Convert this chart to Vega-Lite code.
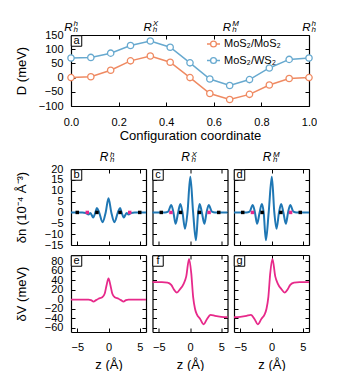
{
 "$schema": "https://vega.github.io/schema/vega-lite/v6.json",
 "padding": {"left": 15, "top": 20, "right": 0, "bottom": 0},
 "config": {
  "font": "Liberation Sans",
  "view": {"stroke": null},
  "axis": {"domainColor": "black", "domainWidth": 1.2, "tickColor": "black", "tickWidth": 1, "tickSize": -4, "labelPadding": 12, "labelFontSize": 11, "labelColor": "black", "titleFontSize": 13, "titleFontWeight": "normal", "titleColor": "black", "grid": false, "labelFlush": false, "labelOverlap": false},
  "axisX": {"labelPadding": 13},
  "text": {"color": "black"}
 },
 "datasets": {
  "D": [
   {"x": 0, "series": "MoS₂/MoS₂", "D": 0}, {"x": 0.0833, "series": "MoS₂/MoS₂", "D": 3}, {"x": 0.1667, "series": "MoS₂/MoS₂", "D": 26}, {"x": 0.25, "series": "MoS₂/MoS₂", "D": 59}, {"x": 0.3333, "series": "MoS₂/MoS₂", "D": 76}, {"x": 0.4167, "series": "MoS₂/MoS₂", "D": 54}, {"x": 0.5, "series": "MoS₂/MoS₂", "D": 0}, {"x": 0.5833, "series": "MoS₂/MoS₂", "D": -56}, {"x": 0.6667, "series": "MoS₂/MoS₂", "D": -77}, {"x": 0.75, "series": "MoS₂/MoS₂", "D": -59}, {"x": 0.8333, "series": "MoS₂/MoS₂", "D": -26}, {"x": 0.9167, "series": "MoS₂/MoS₂", "D": -3}, {"x": 1, "series": "MoS₂/MoS₂", "D": 0},
   {"x": 0, "series": "MoS₂/WS₂", "D": 69}, {"x": 0.0833, "series": "MoS₂/WS₂", "D": 71}, {"x": 0.1667, "series": "MoS₂/WS₂", "D": 86}, {"x": 0.25, "series": "MoS₂/WS₂", "D": 113}, {"x": 0.3333, "series": "MoS₂/WS₂", "D": 129}, {"x": 0.4167, "series": "MoS₂/WS₂", "D": 107}, {"x": 0.5, "series": "MoS₂/WS₂", "D": 52}, {"x": 0.5833, "series": "MoS₂/WS₂", "D": -5}, {"x": 0.6667, "series": "MoS₂/WS₂", "D": -28}, {"x": 0.75, "series": "MoS₂/WS₂", "D": -7}, {"x": 0.8333, "series": "MoS₂/WS₂", "D": 34}, {"x": 0.9167, "series": "MoS₂/WS₂", "D": 64}, {"x": 1, "series": "MoS₂/WS₂", "D": 69}
  ],
  "rtop": [{"x": 0, "sup": "h"}, {"x": 0.3333, "sup": "X"}, {"x": 0.6667, "sup": "M"}, {"x": 1, "sup": "h"}],
  "coltitle": [{"panel": "b", "sup": "h"}, {"panel": "c", "sup": "X"}, {"panel": "d", "sup": "M"}],
  "atoms": [
   {"panel": "b", "z": -5.0, "kind": "S"}, {"panel": "b", "z": -1.85, "kind": "S"}, {"panel": "b", "z": 1.85, "kind": "S"}, {"panel": "b", "z": 5.0, "kind": "S"}, {"panel": "b", "z": -3.4, "kind": "M"}, {"panel": "b", "z": 3.4, "kind": "M"},
   {"panel": "c", "z": -4.6, "kind": "S"}, {"panel": "c", "z": -1.5, "kind": "S"}, {"panel": "c", "z": 1.5, "kind": "S"}, {"panel": "c", "z": 4.6, "kind": "S"}, {"panel": "c", "z": -3.05, "kind": "M"}, {"panel": "c", "z": 3.05, "kind": "M"},
   {"panel": "d", "z": -4.6, "kind": "S"}, {"panel": "d", "z": -1.5, "kind": "S"}, {"panel": "d", "z": 1.5, "kind": "S"}, {"panel": "d", "z": 4.6, "kind": "S"}, {"panel": "d", "z": -3.05, "kind": "M"}, {"panel": "d", "z": 3.05, "kind": "M"}
  ],
  "dn": [
   {"panel": "b", "z": -6, "v": 0}, {"panel": "b", "z": -4.2, "v": 0}, {"panel": "b", "z": -3.6, "v": -0.3}, {"panel": "b", "z": -3.2, "v": -0.9}, {"panel": "b", "z": -2.9, "v": -0.3}, {"panel": "b", "z": -2.45, "v": -2.3}, {"panel": "b", "z": -2.1, "v": 0}, {"panel": "b", "z": -1.85, "v": 2.0}, {"panel": "b", "z": -1.5, "v": 0}, {"panel": "b", "z": -0.95, "v": -4.5}, {"panel": "b", "z": -0.45, "v": 0}, {"panel": "b", "z": 0, "v": 6.5}, {"panel": "b", "z": 0.45, "v": 0}, {"panel": "b", "z": 0.95, "v": -4.5}, {"panel": "b", "z": 1.5, "v": 0}, {"panel": "b", "z": 1.85, "v": 2.0}, {"panel": "b", "z": 2.1, "v": 0}, {"panel": "b", "z": 2.45, "v": -2.3}, {"panel": "b", "z": 2.9, "v": -0.3}, {"panel": "b", "z": 3.2, "v": -0.9}, {"panel": "b", "z": 3.6, "v": -0.3}, {"panel": "b", "z": 4.2, "v": 0}, {"panel": "b", "z": 6, "v": 0},
   {"panel": "c", "z": -6, "v": 0}, {"panel": "c", "z": -4.0, "v": 0}, {"panel": "c", "z": -3.5, "v": 0.4}, {"panel": "c", "z": -3.0, "v": 3.4}, {"panel": "c", "z": -2.65, "v": 0}, {"panel": "c", "z": -2.3, "v": -5.2}, {"panel": "c", "z": -1.9, "v": 0}, {"panel": "c", "z": -1.55, "v": 3.9}, {"panel": "c", "z": -1.2, "v": 0}, {"panel": "c", "z": -0.8, "v": -7.5}, {"panel": "c", "z": -0.4, "v": 0}, {"panel": "c", "z": 0.05, "v": 16.4}, {"panel": "c", "z": 0.5, "v": 0}, {"panel": "c", "z": 0.95, "v": -12.8}, {"panel": "c", "z": 1.3, "v": 0}, {"panel": "c", "z": 1.55, "v": 3.9}, {"panel": "c", "z": 1.9, "v": 0}, {"panel": "c", "z": 2.3, "v": -5.2}, {"panel": "c", "z": 2.65, "v": 0}, {"panel": "c", "z": 3.0, "v": 3.4}, {"panel": "c", "z": 3.5, "v": 0.4}, {"panel": "c", "z": 4.0, "v": 0}, {"panel": "c", "z": 6, "v": 0},
   {"panel": "d", "z": -6, "v": 0}, {"panel": "d", "z": -4.0, "v": 0}, {"panel": "d", "z": -3.5, "v": 0.4}, {"panel": "d", "z": -3.0, "v": 3.4}, {"panel": "d", "z": -2.65, "v": 0}, {"panel": "d", "z": -2.3, "v": -5.2}, {"panel": "d", "z": -1.9, "v": 0}, {"panel": "d", "z": -1.55, "v": 3.9}, {"panel": "d", "z": -1.25, "v": 0}, {"panel": "d", "z": -0.9, "v": -12.8}, {"panel": "d", "z": -0.45, "v": 0}, {"panel": "d", "z": 0.05, "v": 16.4}, {"panel": "d", "z": 0.45, "v": 0}, {"panel": "d", "z": 0.8, "v": -7.5}, {"panel": "d", "z": 1.2, "v": 0}, {"panel": "d", "z": 1.55, "v": 3.9}, {"panel": "d", "z": 1.9, "v": 0}, {"panel": "d", "z": 2.3, "v": -5.2}, {"panel": "d", "z": 2.65, "v": 0}, {"panel": "d", "z": 3.0, "v": 3.4}, {"panel": "d", "z": 3.5, "v": 0.4}, {"panel": "d", "z": 4.0, "v": 0}, {"panel": "d", "z": 6, "v": 0}
  ],
  "dv": [
   {"panel": "e", "z": -6, "v": -1}, {"panel": "e", "z": -3.2, "v": -1}, {"panel": "e", "z": -2.8, "v": -2}, {"panel": "e", "z": -2.4, "v": -5}, {"panel": "e", "z": -2.0, "v": -2}, {"panel": "e", "z": -1.6, "v": 1}, {"panel": "e", "z": -1.0, "v": 4}, {"panel": "e", "z": -0.6, "v": 12}, {"panel": "e", "z": -0.3, "v": 30}, {"panel": "e", "z": 0, "v": 44}, {"panel": "e", "z": 0.3, "v": 30}, {"panel": "e", "z": 0.6, "v": 12}, {"panel": "e", "z": 1.0, "v": 4}, {"panel": "e", "z": 1.6, "v": 1}, {"panel": "e", "z": 2.0, "v": -2}, {"panel": "e", "z": 2.4, "v": -5}, {"panel": "e", "z": 2.8, "v": -2}, {"panel": "e", "z": 3.2, "v": -1}, {"panel": "e", "z": 6, "v": -1},
   {"panel": "f", "z": -6, "v": 36}, {"panel": "f", "z": -4.5, "v": 36}, {"panel": "f", "z": -3.6, "v": 35}, {"panel": "f", "z": -3.0, "v": 30}, {"panel": "f", "z": -2.5, "v": 19}, {"panel": "f", "z": -2.1, "v": 14}, {"panel": "f", "z": -1.6, "v": 21}, {"panel": "f", "z": -1.0, "v": 33}, {"panel": "f", "z": -0.6, "v": 48}, {"panel": "f", "z": -0.15, "v": 85}, {"panel": "f", "z": 0.2, "v": 55}, {"panel": "f", "z": 0.5, "v": 5}, {"panel": "f", "z": 0.8, "v": -20}, {"panel": "f", "z": 1.1, "v": -32}, {"panel": "f", "z": 1.6, "v": -41}, {"panel": "f", "z": 2.2, "v": -53}, {"panel": "f", "z": 2.7, "v": -42}, {"panel": "f", "z": 3.3, "v": -33}, {"panel": "f", "z": 4.0, "v": -35}, {"panel": "f", "z": 5.0, "v": -37}, {"panel": "f", "z": 6, "v": -38},
   {"panel": "g", "z": -6, "v": -38}, {"panel": "g", "z": -5.0, "v": -37}, {"panel": "g", "z": -4.0, "v": -35}, {"panel": "g", "z": -3.3, "v": -33}, {"panel": "g", "z": -2.7, "v": -42}, {"panel": "g", "z": -2.2, "v": -53}, {"panel": "g", "z": -1.6, "v": -41}, {"panel": "g", "z": -1.1, "v": -32}, {"panel": "g", "z": -0.8, "v": -20}, {"panel": "g", "z": -0.5, "v": 5}, {"panel": "g", "z": -0.2, "v": 55}, {"panel": "g", "z": 0.15, "v": 85}, {"panel": "g", "z": 0.6, "v": 48}, {"panel": "g", "z": 1.0, "v": 33}, {"panel": "g", "z": 1.6, "v": 21}, {"panel": "g", "z": 2.1, "v": 14}, {"panel": "g", "z": 2.5, "v": 19}, {"panel": "g", "z": 3.0, "v": 30}, {"panel": "g", "z": 3.6, "v": 35}, {"panel": "g", "z": 4.5, "v": 36}, {"panel": "g", "z": 6, "v": 36}
  ]
 },
 "vconcat": [
  {
   "width": 238, "height": 71,
   "layer": [
    {"data": {"name": "D"},
     "mark": {"type": "line", "strokeWidth": 1.5},
     "encoding": {
      "x": {"field": "x", "type": "quantitative", "scale": {"domain": [0, 1], "nice": false, "zero": false}, "axis": {"orient": "bottom", "values": [0, 0.2, 0.4, 0.6, 0.8, 1], "format": ".1f", "title": "Configuration coordinate", "titlePadding": 2, "labelPadding": 14}},
      "y": {"field": "D", "type": "quantitative", "scale": {"domain": [-100, 150], "nice": false, "zero": false}, "axis": {"orient": "left", "values": [-100, -50, 0, 50, 100, 150], "title": "D (meV)", "titleX": -43}},
      "color": {"field": "series", "type": "nominal", "scale": {"domain": ["MoS₂/MoS₂", "MoS₂/WS₂"], "range": ["#ef8a62", "#67a9cf"]},
       "legend": {"orient": "none", "legendX": 135, "legendY": 1.5, "title": null, "padding": 0, "symbolType": "M-1,0L-0.45,0M0.45,0L1,0M0.45,0A0.45,0.45,0,1,1,-0.45,0A0.45,0.45,0,1,1,0.45,0", "symbolSize": 169, "symbolStrokeWidth": 1.3, "labelFontSize": 11, "labelOffset": 3, "rowPadding": 2.5, "labelColor": "black"}}
     }},
    {"data": {"name": "D"},
     "mark": {"type": "point", "filled": false, "fill": "white", "size": 40, "strokeWidth": 1.3, "opacity": 1},
     "encoding": {
      "x": {"field": "x", "type": "quantitative", "axis": null},
      "y": {"field": "D", "type": "quantitative", "axis": null},
      "color": {"field": "series", "type": "nominal", "legend": null}
     }},
    {"data": {"name": "D"},
     "mark": {"type": "line", "opacity": 0},
     "encoding": {
      "x": {"field": "x", "type": "quantitative", "axis": {"orient": "top", "values": [0, 0.2, 0.4, 0.6, 0.8, 1], "labels": false, "title": null}},
      "y": {"field": "D", "type": "quantitative", "axis": {"orient": "right", "values": [-100, -50, 0, 50, 100, 150], "labels": false, "title": null}}
     }},
    {"data": {"name": "rtop"},
     "mark": {"type": "text", "text": "R", "fontStyle": "italic", "fontSize": 11.5, "align": "right", "baseline": "alphabetic", "dx": 1.5, "dy": -4},
     "encoding": {"x": {"field": "x", "type": "quantitative", "axis": null}, "y": {"datum": 150, "axis": null}}},
    {"data": {"name": "rtop"},
     "mark": {"type": "text", "fontStyle": "italic", "fontSize": 8, "align": "left", "baseline": "alphabetic", "dx": 2.5, "dy": -9},
     "encoding": {"x": {"field": "x", "type": "quantitative", "axis": null}, "y": {"datum": 150, "axis": null}, "text": {"field": "sup"}}},
    {"data": {"name": "rtop"},
     "mark": {"type": "text", "text": "h", "fontStyle": "italic", "fontSize": 8, "align": "left", "baseline": "alphabetic", "dx": 2.5, "dy": -3},
     "encoding": {"x": {"field": "x", "type": "quantitative", "axis": null}, "y": {"datum": 150, "axis": null}}},
    {"data": {"values": [{"t": "a"}]},
     "mark": {"type": "point", "shape": "square", "filled": true, "fill": "white", "stroke": "black", "strokeWidth": 1, "size": 110, "xOffset": 5.5, "yOffset": 6, "opacity": 1},
     "encoding": {"x": {"datum": 0, "axis": null}, "y": {"datum": 150, "axis": null}}},
    {"data": {"values": [{"t": "a"}]},
     "mark": {"type": "text", "fontSize": 11, "align": "center", "baseline": "middle", "dx": 5.5, "dy": 6},
     "encoding": {"x": {"datum": 0, "axis": null}, "y": {"datum": 150, "axis": null}, "text": {"field": "t"}}}
   ]
  },
  {
   "spacing": 3,
   "vconcat": [
    {
     "spacing": 6.5,
     "bounds": "flush",
     "hconcat": [
      {
       "width": 75, "height": 76,
       "layer": [
        {"data": {"name": "dn"}, "transform": [{"filter": "datum.panel == 'b'"}],
         "mark": {"type": "line", "color": "#1f77b4", "strokeWidth": 2, "interpolate": "monotone"},
         "encoding": {
          "x": {"field": "z", "type": "quantitative", "scale": {"domain": [-6, 6], "nice": false, "zero": false}, "axis": {"orient": "bottom", "values": [-5, 0, 5], "labels": false, "title": null}},
          "y": {"field": "v", "type": "quantitative", "scale": {"domain": [-15, 20], "nice": false, "zero": false}, "axis": {"orient": "left", "values": [-15, -10, -5, 0, 5, 10, 15, 20], "title": "δn (10⁻⁴ Å⁻³)", "titleX": -43}}
         }},
        {"data": {"name": "dn"}, "transform": [{"filter": "datum.panel == 'b'"}],
         "mark": {"type": "line", "opacity": 0},
         "encoding": {
          "x": {"field": "z", "type": "quantitative", "axis": {"orient": "top", "values": [-5, 0, 5], "labels": false, "title": null}},
          "y": {"field": "v", "type": "quantitative", "axis": {"orient": "right", "values": [-15, -10, -5, 0, 5, 10, 15, 20], "labels": false, "title": null}}
         }},
        {"data": {"name": "atoms"}, "transform": [{"filter": "datum.panel == 'b' && datum.kind == 'S'"}],
         "mark": {"type": "point", "shape": "square", "filled": true, "size": 12, "color": "black", "opacity": 1},
         "encoding": {"x": {"field": "z", "type": "quantitative", "axis": null}, "y": {"datum": 0, "axis": null}}},
        {"data": {"name": "atoms"}, "transform": [{"filter": "datum.panel == 'b' && datum.kind == 'M'"}],
         "mark": {"type": "point", "shape": "square", "filled": true, "size": 12, "color": "#e7298a", "opacity": 1},
         "encoding": {"x": {"field": "z", "type": "quantitative", "axis": null}, "y": {"datum": 0, "axis": null}}},
        {"data": {"name": "coltitle"}, "transform": [{"filter": "datum.panel == 'b'"}],
         "mark": {"type": "text", "text": "R", "fontStyle": "italic", "fontSize": 12, "align": "right", "baseline": "alphabetic", "dx": 0, "dy": -8},
         "encoding": {"x": {"datum": 0, "axis": null}, "y": {"datum": 20, "axis": null}}},
        {"data": {"name": "coltitle"}, "transform": [{"filter": "datum.panel == 'b'"}],
         "mark": {"type": "text", "fontStyle": "italic", "fontSize": 8, "align": "left", "baseline": "alphabetic", "dx": 1.5, "dy": -12.5},
         "encoding": {"x": {"datum": 0, "axis": null}, "y": {"datum": 20, "axis": null}, "text": {"field": "sup"}}},
        {"data": {"name": "coltitle"}, "transform": [{"filter": "datum.panel == 'b'"}],
         "mark": {"type": "text", "text": "h", "fontStyle": "italic", "fontSize": 8, "align": "left", "baseline": "alphabetic", "dx": 1.5, "dy": -7},
         "encoding": {"x": {"datum": 0, "axis": null}, "y": {"datum": 20, "axis": null}}},
        {"data": {"values": [{"t": "b"}]},
         "mark": {"type": "point", "shape": "square", "filled": true, "fill": "white", "stroke": "black", "strokeWidth": 1, "size": 110, "xOffset": 5.5, "yOffset": 6, "opacity": 1},
         "encoding": {"x": {"datum": -6, "axis": null}, "y": {"datum": 20, "axis": null}}},
        {"data": {"values": [{"t": "b"}]},
         "mark": {"type": "text", "fontSize": 11, "align": "center", "baseline": "middle", "dx": 5.5, "dy": 6},
         "encoding": {"x": {"datum": -6, "axis": null}, "y": {"datum": 20, "axis": null}, "text": {"field": "t"}}}
       ]
      },
      {
       "width": 75, "height": 76,
       "layer": [
        {"data": {"name": "dn"}, "transform": [{"filter": "datum.panel == 'c'"}],
         "mark": {"type": "line", "color": "#1f77b4", "strokeWidth": 2, "interpolate": "monotone"},
         "encoding": {
          "x": {"field": "z", "type": "quantitative", "scale": {"domain": [-6, 6], "nice": false, "zero": false}, "axis": {"orient": "bottom", "values": [-5, 0, 5], "labels": false, "title": null}},
          "y": {"field": "v", "type": "quantitative", "scale": {"domain": [-15, 20], "nice": false, "zero": false}, "axis": {"orient": "left", "values": [-15, -10, -5, 0, 5, 10, 15, 20], "labels": false, "title": null}}
         }},
        {"data": {"name": "dn"}, "transform": [{"filter": "datum.panel == 'c'"}],
         "mark": {"type": "line", "opacity": 0},
         "encoding": {
          "x": {"field": "z", "type": "quantitative", "axis": {"orient": "top", "values": [-5, 0, 5], "labels": false, "title": null}},
          "y": {"field": "v", "type": "quantitative", "axis": {"orient": "right", "values": [-15, -10, -5, 0, 5, 10, 15, 20], "labels": false, "title": null}}
         }},
        {"data": {"name": "atoms"}, "transform": [{"filter": "datum.panel == 'c' && datum.kind == 'S'"}],
         "mark": {"type": "point", "shape": "square", "filled": true, "size": 12, "color": "black", "opacity": 1},
         "encoding": {"x": {"field": "z", "type": "quantitative", "axis": null}, "y": {"datum": 0, "axis": null}}},
        {"data": {"name": "atoms"}, "transform": [{"filter": "datum.panel == 'c' && datum.kind == 'M'"}],
         "mark": {"type": "point", "shape": "square", "filled": true, "size": 12, "color": "#e7298a", "opacity": 1},
         "encoding": {"x": {"field": "z", "type": "quantitative", "axis": null}, "y": {"datum": 0, "axis": null}}},
        {"data": {"name": "coltitle"}, "transform": [{"filter": "datum.panel == 'c'"}],
         "mark": {"type": "text", "text": "R", "fontStyle": "italic", "fontSize": 12, "align": "right", "baseline": "alphabetic", "dx": 0, "dy": -8},
         "encoding": {"x": {"datum": 0, "axis": null}, "y": {"datum": 20, "axis": null}}},
        {"data": {"name": "coltitle"}, "transform": [{"filter": "datum.panel == 'c'"}],
         "mark": {"type": "text", "fontStyle": "italic", "fontSize": 8, "align": "left", "baseline": "alphabetic", "dx": 1.5, "dy": -12.5},
         "encoding": {"x": {"datum": 0, "axis": null}, "y": {"datum": 20, "axis": null}, "text": {"field": "sup"}}},
        {"data": {"name": "coltitle"}, "transform": [{"filter": "datum.panel == 'c'"}],
         "mark": {"type": "text", "text": "h", "fontStyle": "italic", "fontSize": 8, "align": "left", "baseline": "alphabetic", "dx": 1.5, "dy": -7},
         "encoding": {"x": {"datum": 0, "axis": null}, "y": {"datum": 20, "axis": null}}},
        {"data": {"values": [{"t": "c"}]},
         "mark": {"type": "point", "shape": "square", "filled": true, "fill": "white", "stroke": "black", "strokeWidth": 1, "size": 110, "xOffset": 5.5, "yOffset": 6, "opacity": 1},
         "encoding": {"x": {"datum": -6, "axis": null}, "y": {"datum": 20, "axis": null}}},
        {"data": {"values": [{"t": "c"}]},
         "mark": {"type": "text", "fontSize": 11, "align": "center", "baseline": "middle", "dx": 5.5, "dy": 6},
         "encoding": {"x": {"datum": -6, "axis": null}, "y": {"datum": 20, "axis": null}, "text": {"field": "t"}}}
       ]
      },
      {
       "width": 75, "height": 76,
       "layer": [
        {"data": {"name": "dn"}, "transform": [{"filter": "datum.panel == 'd'"}],
         "mark": {"type": "line", "color": "#1f77b4", "strokeWidth": 2, "interpolate": "monotone"},
         "encoding": {
          "x": {"field": "z", "type": "quantitative", "scale": {"domain": [-6, 6], "nice": false, "zero": false}, "axis": {"orient": "bottom", "values": [-5, 0, 5], "labels": false, "title": null}},
          "y": {"field": "v", "type": "quantitative", "scale": {"domain": [-15, 20], "nice": false, "zero": false}, "axis": {"orient": "left", "values": [-15, -10, -5, 0, 5, 10, 15, 20], "labels": false, "title": null}}
         }},
        {"data": {"name": "dn"}, "transform": [{"filter": "datum.panel == 'd'"}],
         "mark": {"type": "line", "opacity": 0},
         "encoding": {
          "x": {"field": "z", "type": "quantitative", "axis": {"orient": "top", "values": [-5, 0, 5], "labels": false, "title": null}},
          "y": {"field": "v", "type": "quantitative", "axis": {"orient": "right", "values": [-15, -10, -5, 0, 5, 10, 15, 20], "labels": false, "title": null}}
         }},
        {"data": {"name": "atoms"}, "transform": [{"filter": "datum.panel == 'd' && datum.kind == 'S'"}],
         "mark": {"type": "point", "shape": "square", "filled": true, "size": 12, "color": "black", "opacity": 1},
         "encoding": {"x": {"field": "z", "type": "quantitative", "axis": null}, "y": {"datum": 0, "axis": null}}},
        {"data": {"name": "atoms"}, "transform": [{"filter": "datum.panel == 'd' && datum.kind == 'M'"}],
         "mark": {"type": "point", "shape": "square", "filled": true, "size": 12, "color": "#e7298a", "opacity": 1},
         "encoding": {"x": {"field": "z", "type": "quantitative", "axis": null}, "y": {"datum": 0, "axis": null}}},
        {"data": {"name": "coltitle"}, "transform": [{"filter": "datum.panel == 'd'"}],
         "mark": {"type": "text", "text": "R", "fontStyle": "italic", "fontSize": 12, "align": "right", "baseline": "alphabetic", "dx": 0, "dy": -8},
         "encoding": {"x": {"datum": 0, "axis": null}, "y": {"datum": 20, "axis": null}}},
        {"data": {"name": "coltitle"}, "transform": [{"filter": "datum.panel == 'd'"}],
         "mark": {"type": "text", "fontStyle": "italic", "fontSize": 8, "align": "left", "baseline": "alphabetic", "dx": 1.5, "dy": -12.5},
         "encoding": {"x": {"datum": 0, "axis": null}, "y": {"datum": 20, "axis": null}, "text": {"field": "sup"}}},
        {"data": {"name": "coltitle"}, "transform": [{"filter": "datum.panel == 'd'"}],
         "mark": {"type": "text", "text": "h", "fontStyle": "italic", "fontSize": 8, "align": "left", "baseline": "alphabetic", "dx": 1.5, "dy": -7},
         "encoding": {"x": {"datum": 0, "axis": null}, "y": {"datum": 20, "axis": null}}},
        {"data": {"values": [{"t": "d"}]},
         "mark": {"type": "point", "shape": "square", "filled": true, "fill": "white", "stroke": "black", "strokeWidth": 1, "size": 110, "xOffset": 5.5, "yOffset": 6, "opacity": 1},
         "encoding": {"x": {"datum": -6, "axis": null}, "y": {"datum": 20, "axis": null}}},
        {"data": {"values": [{"t": "d"}]},
         "mark": {"type": "text", "fontSize": 11, "align": "center", "baseline": "middle", "dx": 5.5, "dy": 6},
         "encoding": {"x": {"datum": -6, "axis": null}, "y": {"datum": 20, "axis": null}, "text": {"field": "t"}}}
       ]
      }
     ]
    },
    {
     "spacing": 6.5,
     "bounds": "flush",
     "hconcat": [
      {
       "width": 75, "height": 77,
       "layer": [
        {"data": {"name": "dv"}, "transform": [{"filter": "datum.panel == 'e'"}],
         "mark": {"type": "line", "color": "#e7298a", "strokeWidth": 1.8, "interpolate": "monotone"},
         "encoding": {
          "x": {"field": "z", "type": "quantitative", "scale": {"domain": [-6, 6], "nice": false, "zero": false}, "axis": {"orient": "bottom", "values": [-5, 0, 5], "title": "z (Å)", "titlePadding": 6, "labelPadding": 13}},
          "y": {"field": "v", "type": "quantitative", "scale": {"domain": [-69, 93], "nice": false, "zero": false}, "axis": {"orient": "left", "values": [-60, -40, -20, 0, 20, 40, 60, 80], "title": "δV (meV)", "titleX": -43}}
         }},
        {"data": {"name": "dv"}, "transform": [{"filter": "datum.panel == 'e'"}],
         "mark": {"type": "line", "opacity": 0},
         "encoding": {
          "x": {"field": "z", "type": "quantitative", "axis": {"orient": "top", "values": [-5, 0, 5], "labels": false, "title": null}},
          "y": {"field": "v", "type": "quantitative", "axis": {"orient": "right", "values": [-60, -40, -20, 0, 20, 40, 60, 80], "labels": false, "title": null}}
         }},
        {"data": {"values": [{"t": "e"}]},
         "mark": {"type": "point", "shape": "square", "filled": true, "fill": "white", "stroke": "black", "strokeWidth": 1, "size": 110, "xOffset": 5.5, "yOffset": 6, "opacity": 1},
         "encoding": {"x": {"datum": -6, "axis": null}, "y": {"datum": 93, "axis": null}}},
        {"data": {"values": [{"t": "e"}]},
         "mark": {"type": "text", "fontSize": 11, "align": "center", "baseline": "middle", "dx": 5.5, "dy": 6},
         "encoding": {"x": {"datum": -6, "axis": null}, "y": {"datum": 93, "axis": null}, "text": {"field": "t"}}}
       ]
      },
      {
       "width": 75, "height": 77,
       "layer": [
        {"data": {"name": "dv"}, "transform": [{"filter": "datum.panel == 'f'"}],
         "mark": {"type": "line", "color": "#e7298a", "strokeWidth": 1.8, "interpolate": "monotone"},
         "encoding": {
          "x": {"field": "z", "type": "quantitative", "scale": {"domain": [-6, 6], "nice": false, "zero": false}, "axis": {"orient": "bottom", "values": [-5, 0, 5], "title": "z (Å)", "titlePadding": 6, "labelPadding": 13}},
          "y": {"field": "v", "type": "quantitative", "scale": {"domain": [-69, 93], "nice": false, "zero": false}, "axis": {"orient": "left", "values": [-60, -40, -20, 0, 20, 40, 60, 80], "labels": false, "title": null}}
         }},
        {"data": {"name": "dv"}, "transform": [{"filter": "datum.panel == 'f'"}],
         "mark": {"type": "line", "opacity": 0},
         "encoding": {
          "x": {"field": "z", "type": "quantitative", "axis": {"orient": "top", "values": [-5, 0, 5], "labels": false, "title": null}},
          "y": {"field": "v", "type": "quantitative", "axis": {"orient": "right", "values": [-60, -40, -20, 0, 20, 40, 60, 80], "labels": false, "title": null}}
         }},
        {"data": {"values": [{"t": "f"}]},
         "mark": {"type": "point", "shape": "square", "filled": true, "fill": "white", "stroke": "black", "strokeWidth": 1, "size": 110, "xOffset": 5.5, "yOffset": 6, "opacity": 1},
         "encoding": {"x": {"datum": -6, "axis": null}, "y": {"datum": 93, "axis": null}}},
        {"data": {"values": [{"t": "f"}]},
         "mark": {"type": "text", "fontSize": 11, "align": "center", "baseline": "middle", "dx": 5.5, "dy": 6},
         "encoding": {"x": {"datum": -6, "axis": null}, "y": {"datum": 93, "axis": null}, "text": {"field": "t"}}}
       ]
      },
      {
       "width": 75, "height": 77,
       "layer": [
        {"data": {"name": "dv"}, "transform": [{"filter": "datum.panel == 'g'"}],
         "mark": {"type": "line", "color": "#e7298a", "strokeWidth": 1.8, "interpolate": "monotone"},
         "encoding": {
          "x": {"field": "z", "type": "quantitative", "scale": {"domain": [-6, 6], "nice": false, "zero": false}, "axis": {"orient": "bottom", "values": [-5, 0, 5], "title": "z (Å)", "titlePadding": 6, "labelPadding": 13}},
          "y": {"field": "v", "type": "quantitative", "scale": {"domain": [-69, 93], "nice": false, "zero": false}, "axis": {"orient": "left", "values": [-60, -40, -20, 0, 20, 40, 60, 80], "labels": false, "title": null}}
         }},
        {"data": {"name": "dv"}, "transform": [{"filter": "datum.panel == 'g'"}],
         "mark": {"type": "line", "opacity": 0},
         "encoding": {
          "x": {"field": "z", "type": "quantitative", "axis": {"orient": "top", "values": [-5, 0, 5], "labels": false, "title": null}},
          "y": {"field": "v", "type": "quantitative", "axis": {"orient": "right", "values": [-60, -40, -20, 0, 20, 40, 60, 80], "labels": false, "title": null}}
         }},
        {"data": {"values": [{"t": "g"}]},
         "mark": {"type": "point", "shape": "square", "filled": true, "fill": "white", "stroke": "black", "strokeWidth": 1, "size": 110, "xOffset": 5.5, "yOffset": 6, "opacity": 1},
         "encoding": {"x": {"datum": -6, "axis": null}, "y": {"datum": 93, "axis": null}}},
        {"data": {"values": [{"t": "g"}]},
         "mark": {"type": "text", "fontSize": 11, "align": "center", "baseline": "middle", "dx": 5.5, "dy": 6},
         "encoding": {"x": {"datum": -6, "axis": null}, "y": {"datum": 93, "axis": null}, "text": {"field": "t"}}}
       ]
      }
     ]
    }
   ]
  }
 ],
 "spacing": 8
}
